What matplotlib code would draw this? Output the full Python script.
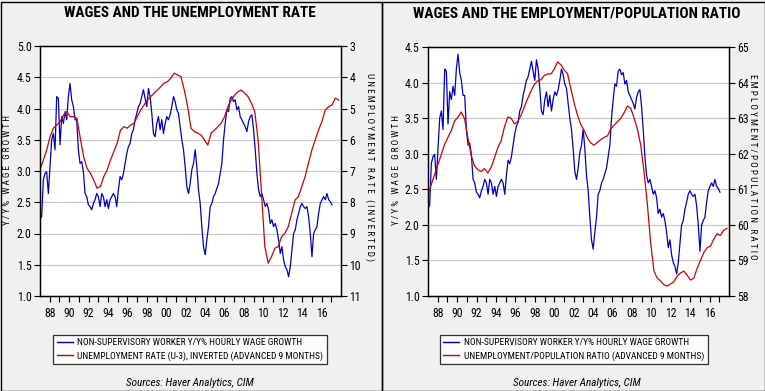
import numpy as np
import matplotlib.pyplot as plt
from matplotlib.lines import Line2D
from matplotlib.patches import Rectangle

# Y/Y% hourly wage growth, non-supervisory workers (roughly every 2 months, 1987.0 -> 2017.07)
wage_growth = [
    2.24, 2.27, 2.86, 2.96, 2.99, 2.64, 3.07, 3.50, 3.60, 3.34, 4.19, 4.16, 3.42, 3.87, 3.76, 3.95,
    3.82, 4.19, 4.40, 4.14, 4.03, 3.82, 3.82, 3.34, 3.12, 3.15, 2.99, 2.64, 2.59, 2.46, 2.43, 2.38,
    2.48, 2.54, 2.64, 2.59, 2.43, 2.64, 2.59, 2.43, 2.54, 2.40, 2.54, 2.59, 2.64, 2.59, 2.43, 2.70,
    2.91, 2.86, 2.96, 3.12, 3.28, 3.39, 3.44, 3.60, 3.66, 3.82, 3.92, 4.03, 4.08, 4.19, 4.30, 4.16,
    4.03, 4.32, 4.19, 3.92, 3.60, 3.55, 3.76, 3.87, 3.66, 3.82, 3.60, 3.76, 3.87, 3.82, 3.90, 4.03,
    4.19, 4.11, 3.98, 3.92, 3.71, 3.50, 3.34, 3.07, 2.75, 2.64, 2.80, 3.02, 3.12, 3.34, 3.07, 2.70,
    2.48, 2.11, 1.79, 1.66, 1.90, 2.11, 2.43, 2.48, 2.59, 2.64, 2.72, 2.80, 2.96, 3.12, 3.50, 3.76,
    3.98, 3.95, 4.16, 4.19, 4.11, 4.14, 3.98, 4.03, 3.87, 3.82, 3.76, 3.71, 3.63, 3.79, 3.87, 3.90,
    3.66, 3.34, 2.96, 2.70, 2.59, 2.64, 2.54, 2.43, 2.48, 2.38, 2.16, 2.22, 2.11, 2.16, 2.06, 1.90,
    1.68, 1.79, 1.58, 1.47, 1.42, 1.31, 1.47, 1.74, 2.00, 2.06, 2.22, 2.32, 2.43, 2.48, 2.43, 2.40,
    2.43, 2.27, 2.00, 1.63, 2.00, 2.06, 2.11, 2.32, 2.48, 2.54, 2.59, 2.54, 2.64, 2.54, 2.51, 2.46,
]
wage_span = (1987.0, 2017.07)

# unemployment rate U3, advanced 9 months (plotted inverted), 1987.0 -> 2017.76
unemployment = [
    6.97, 6.65, 6.33, 5.90, 5.63, 5.53, 5.42, 5.21, 5.10, 5.26, 5.26, 5.31, 5.95, 6.54, 6.91, 7.07,
    7.29, 7.55, 7.50, 7.18, 6.97, 6.65, 6.38, 6.11, 5.69, 5.58, 5.63, 5.53, 5.47, 5.26, 5.05, 4.89,
    4.73, 4.62, 4.51, 4.41, 4.30, 4.19, 4.14, 4.03, 3.87, 3.93, 3.98, 4.41, 4.94, 5.63, 5.74, 5.79,
    5.85, 6.01, 6.17, 5.79, 5.69, 5.58, 5.47, 5.26, 4.94, 4.73, 4.57, 4.46, 4.41, 4.51, 4.62, 4.83,
    5.10, 6.01, 7.71, 9.42, 9.95, 9.74, 9.47, 9.42, 9.10, 8.99, 8.78, 8.35, 7.93, 7.82, 7.50, 7.18,
    6.75, 6.33, 6.01, 5.69, 5.42, 5.05, 4.94, 4.89, 4.67, 4.73,
]
unemployment_span = (1987.0, 2017.76)

# employment/population ratio, advanced 9 months, 1987.0 -> 2017.8
emp_pop_ratio = [
    60.84, 61.14, 61.42, 61.70, 61.98, 62.26, 62.46, 62.65, 62.92, 63.03, 63.17, 62.98, 62.45, 61.95,
    61.66, 61.55, 61.50, 61.58, 61.46, 61.62, 61.88, 62.17, 62.36, 62.75, 63.03, 63.00, 62.84, 62.90,
    63.08, 63.32, 63.55, 63.76, 63.95, 64.05, 64.08, 64.20, 64.24, 64.24, 64.38, 64.58, 64.50, 64.35,
    64.25, 63.82, 63.42, 63.08, 62.82, 62.65, 62.44, 62.30, 62.24, 62.32, 62.40, 62.46, 62.50, 62.70,
    62.80, 62.90, 62.99, 63.15, 63.34, 63.28, 63.01, 62.70, 62.25, 61.50, 60.60, 59.50, 58.70, 58.50,
    58.42, 58.32, 58.28, 58.34, 58.40, 58.56, 58.65, 58.70, 58.58, 58.45, 58.50, 58.78, 59.00, 59.22,
    59.36, 59.40, 59.60, 59.75, 59.70, 59.85, 59.90,
]
emp_pop_span = (1987.0, 2017.8)

year_ticks = list(range(1988, 2018))
year_labels = [f"{y % 100:02d}" if y % 2 == 0 else "" for y in year_ticks]

BLUE = '#0000c8'
RED = '#d40000'
NARROW = ['Roboto Condensed', 'Liberation Sans Narrow', 'DejaVu Sans Condensed', 'Liberation Sans']
plt.rcParams['font.family'] = NARROW


def spaced(s):
    return ' '.join(s)


def panel(fig, rect, title, title_x, left_label, right_label, red, red_span,
          left_lim, left_ticks, right_lim, right_ticks, legend_labels,
          label_xs, legend_x):
    ax = fig.add_axes(rect)
    ax.set_facecolor('white')
    xw = np.linspace(wage_span[0], wage_span[1], len(wage_growth))
    ax.plot(xw, wage_growth, color=BLUE, lw=0.9)
    ax.set_xlim(1987, 2018)
    ax.set_ylim(*left_lim)
    ax.set_yticks(left_ticks)
    ax.set_yticklabels([f"{t:.1f}" for t in left_ticks])
    ax.yaxis.grid(True, color='#c8c8c8', lw=0.8)
    ax.set_axisbelow(True)
    ax.set_xticks(year_ticks)
    ax.set_xticklabels(year_labels)
    ax.tick_params(axis='both', direction='out', length=4, width=0.8, labelsize=8.5, pad=2)
    ax.tick_params(axis='x', pad=4)

    ax2 = ax.twinx()
    xr = np.linspace(red_span[0], red_span[1], len(red))
    ax2.plot(xr, red, color=RED, lw=0.9)
    ax2.set_ylim(*right_lim)
    ax2.set_yticks(right_ticks)
    ax2.tick_params(axis='y', direction='out', length=4, width=0.8, labelsize=8.5, pad=2)
    for a in (ax, ax2):
        for sp in a.spines.values():
            sp.set_linewidth(0.9)

    fig.text(title_x, 1 - 13 / 391, title, ha='center', va='center',
             fontsize=11, fontweight='bold')
    fig.text(label_xs[0], 1 - 170 / 391, spaced(left_label), rotation=90,
             ha='center', va='center', fontsize=6.6)
    fig.text(label_xs[1], 1 - 167 / 391, spaced(right_label), rotation=270,
             ha='center', va='center', fontsize=6.6)

    handles = [Line2D([], [], color=BLUE, lw=1.0), Line2D([], [], color=RED, lw=1.0)]
    leg = fig.legend(handles, legend_labels, loc='center',
                     bbox_to_anchor=(legend_x, 1 - 349.5 / 391), fontsize=6.8,
                     frameon=True, fancybox=False, edgecolor='black',
                     handlelength=1.7, handletextpad=0.5, borderpad=0.4,
                     labelspacing=0.4, borderaxespad=0)
    leg.get_frame().set_linewidth(0.9)
    fig.text(title_x, 1 - 383 / 391, 'Sources: Haver Analytics, CIM', ha='center',
             va='center', fontsize=8, style='italic')
    return ax, ax2


fig = plt.figure(figsize=(7.65, 3.91), dpi=100, facecolor='#f0f0f0')

panel(fig, [40 / 765, 1 - 296 / 391, 301 / 765, 250 / 391],
      'WAGES AND THE UNEMPLOYMENT RATE', 190 / 765,
      'Y/Y% WAGE GROWTH', 'UNEMPLOYMENT RATE (INVERTED)',
      unemployment, unemployment_span,
      (1.0, 5.0), [1.0, 1.5, 2.0, 2.5, 3.0, 3.5, 4.0, 4.5, 5.0],
      (11, 3), list(range(3, 12)),
      ['NON-SUPERVISORY WORKER Y/Y% HOURLY WAGE GROWTH',
       'UNEMPLOYMENT RATE (U-3), INVERTED (ADVANCED 9 MONTHS)'],
      (8 / 765, 370 / 765), 190 / 765)

panel(fig, [428 / 765, 1 - 296 / 391, 301 / 765, 249 / 391],
      'WAGES AND THE EMPLOYMENT/POPULATION RATIO', 577 / 765,
      'Y/Y% WAGE GROWTH', 'EMPLOYMENT/POPULATION RATIO',
      emp_pop_ratio, emp_pop_span,
      (1.0, 4.5), [1.0, 1.5, 2.0, 2.5, 3.0, 3.5, 4.0, 4.5],
      (58, 65), list(range(58, 66)),
      ['NON-SUPERVISORY WORKER Y/Y% HOURLY WAGE GROWTH',
       'UNEMPLOYMENT/POPULATION RATIO (ADVANCED 9 MONTHS)'],
      (396 / 765, 753 / 765), 574 / 765)

# panel borders
fig.add_artist(Rectangle((0.5 / 765, 0.5 / 391), 381.5 / 765, 389 / 391, transform=fig.transFigure,
                         fill=False, edgecolor='black', lw=1.0))
fig.add_artist(Rectangle((382 / 765, 0.5 / 391), 382.5 / 765, 389 / 391, transform=fig.transFigure,
                         fill=False, edgecolor='black', lw=1.0))

fig.savefig('out.png', dpi=100, facecolor=fig.get_facecolor())
